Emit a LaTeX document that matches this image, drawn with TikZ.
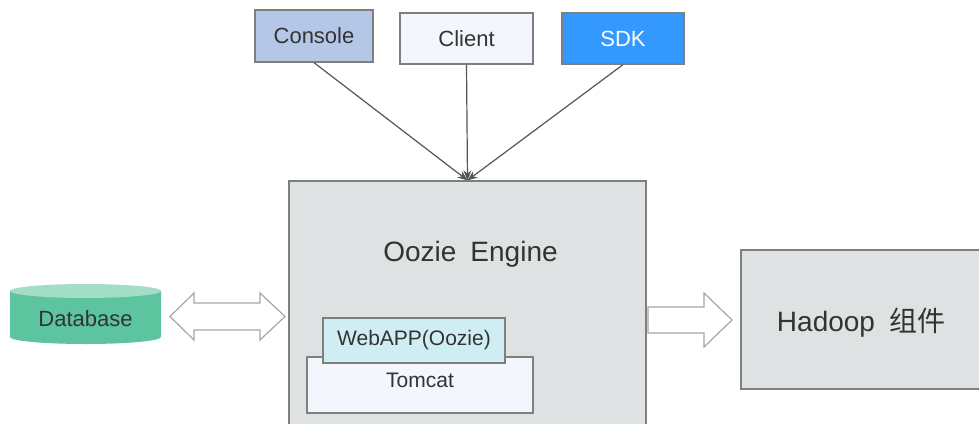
\documentclass[tikz,border=0pt]{standalone}
\usepackage{fontspec}
\setmainfont{Liberation Sans}
\newfontfamily\cjk{Noto Sans CJK SC}
\usetikzlibrary{arrows.meta}
\definecolor{bord}{HTML}{7F7F7F}
\definecolor{txt}{HTML}{333333}
\definecolor{consolefill}{HTML}{B4C7E7}
\definecolor{clientfill}{HTML}{F3F6FD}
\definecolor{sdkfill}{HTML}{3399FF}
\definecolor{enginefill}{HTML}{DFE2E3}
\definecolor{webfill}{HTML}{CFEEF3}
\definecolor{dbbody}{HTML}{5CC49F}
\definecolor{dbtop}{HTML}{A3DDC8}
\definecolor{conn}{HTML}{555555}
\definecolor{bigarrow}{HTML}{A6A6A6}
\begin{document}
\begin{tikzpicture}[x=1pt,y=-1pt,
  box/.style={draw=bord, line width=1.3pt, inner sep=0pt, text=txt},
  smallfont/.style={font=\fontsize{22}{26}\selectfont},
  midfont/.style={font=\fontsize{21}{25}\selectfont},
  bigfont/.style={font=\fontsize{28}{32}\selectfont},
  connector/.style={draw=conn, line width=1.2pt, -{Stealth[length=10pt,width=8pt]}},
  hollow/.style={draw=bigarrow, fill=white, line width=1.2pt, line join=miter}]
\useasboundingbox (0,0) rectangle (979,423);

% top sources
\node[box, smallfont, fill=consolefill, minimum width=118pt, minimum height=52pt] (console) at (314,36) {Console};
\node[box, smallfont, fill=clientfill, minimum width=133pt, minimum height=51pt] (client) at (466.5,38.5) {Client};
\node[box, smallfont, fill=sdkfill, text=white, minimum width=122pt, minimum height=51pt] (sdk) at (623,38.5) {SDK};

% engine
\node[box, fill=enginefill, minimum width=357pt, minimum height=264pt] (engine) at (467.5,313) {};
\node[bigfont, text=txt] (oozie) at (470.5,254) {Oozie\hspace{0.5em}Engine};
\node[box, fill=clientfill, minimum width=226pt, minimum height=56pt] (tomcat) at (420,385) {};
\node[midfont, text=txt] (tomcatlbl) at (420,380) {Tomcat};
\node[box, midfont, fill=webfill, minimum width=182pt, minimum height=45pt] (webapp) at (414,340.5) {WebAPP(Oozie)};

% hadoop
\node[box, fill=enginefill, minimum width=254pt, minimum height=139pt] (hadoop) at (868,319.5) {};
\node[bigfont, text=txt] (hadooplbl) at (861,323) {Hadoop\hspace{0.5em}{\cjk 组件}};

% database cylinder
\fill[dbbody] (10,291) -- (10,337) arc[start angle=180, end angle=360, x radius=75.5pt, y radius=7pt] -- (161,291) -- cycle;
\fill[dbtop] (85.5,291) ellipse[x radius=75.5pt, y radius=7pt];
\node[smallfont, text=txt] (db) at (85.5,319) {Database};

% hollow arrows
\draw[hollow] (170,316.5) -- (194,293) -- (194,303) -- (260,303) -- (260,293) -- (285,316.5)
  -- (260,340) -- (260,330) -- (194,330) -- (194,340) -- cycle;
\draw[hollow] (648,307) -- (704,307) -- (704,293) -- (732,320) -- (704,347) -- (704,333) -- (648,333) -- cycle;

% connectors
\draw[connector] (console.south) -- (engine.north);
\draw[connector] (client.south) -- (engine.north);
\draw[connector] (sdk.south) -- (engine.north);
\end{tikzpicture}
\end{document}
